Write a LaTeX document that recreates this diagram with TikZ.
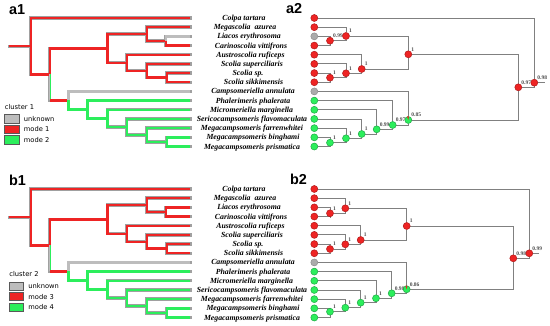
\documentclass[tikz,border=0pt]{standalone}
\usepackage{fontspec}
\setmainfont{Liberation Serif}
\setsansfont{DejaVu Sans}
\newfontfamily\panelfont{Liberation Sans}
\usepackage{xcolor}
\usetikzlibrary{positioning}
\pgfdeclarelayer{paper}
\pgfdeclarelayer{edges}
\pgfsetlayers{paper,edges,main}
\definecolor{modered}{HTML}{EE2424}
\definecolor{modegreen}{HTML}{2CEE5C}
\definecolor{unkgray}{HTML}{BDBDBD}
\definecolor{rimgray}{HTML}{A0A0A0}
\definecolor{linegray}{HTML}{808080}
\definecolor{darkred}{HTML}{B01818}
\definecolor{darkgreen}{HTML}{1FA845}
\definecolor{dotgrayfill}{HTML}{ABABAB}

\tikzset{
  br/.style={line width=2.4pt},
  brback/.style={line width=3.4pt, draw=rimgray, line cap=rect},
  stripe/.style={draw=modegreen, line width=0.9pt},
  taxon/.style={font=\fontsize{7.8}{8}\selectfont\bfseries\itshape, anchor=base, inner sep=0pt},
  panel/.style={font=\panelfont\fontsize{14.4}{15}\selectfont\bfseries, anchor=base west, inner sep=0pt},
  keybox/.style={draw=black!65, line width=0.8pt, minimum width=14.6pt, minimum height=8.4pt, inner sep=0pt},
  keytext/.style={font=\sffamily\fontsize{6.7}{7}\selectfont, anchor=west, inner sep=0pt},
  dot/.style={circle, inner sep=0pt, minimum size=7pt, line width=0.5pt},
  dotred/.style={dot, fill=modered, draw=darkred},
  dotgreen/.style={dot, fill=modegreen, draw=darkgreen},
  dotgray/.style={dot, fill=dotgrayfill, draw=black!45},
  val/.style={font=\fontsize{5.5}{6}\selectfont\bfseries, text=black!70, inner sep=0.3pt},
  conn/.style={draw=linegray, line width=0.9pt}
}

\newcommand{\branch}[2]{%
  \begin{pgfonlayer}{edges}\draw[brback] #2;\end{pgfonlayer}%
  \draw[br, draw=#1] #2;}

\begin{document}
\begin{tikzpicture}[x=1pt, y=-1pt]
\useasboundingbox (0,0) rectangle (550,326);
\begin{pgfonlayer}{paper}
  \fill[white] (0,0) rectangle (550,326);
\end{pgfonlayer}

% ancestral state trees (a1, b1)
\foreach \p/\dy/\lc/\cl/\ma/\mb/\kx/\ky in {a/0/unkgray/1/1/2/0/0, b/171/modered/2/3/4/4.5/-3.8}{
\begin{scope}[yshift=-\dy pt]
  \node[panel] (\p-one) at (9,15) {\p1};
  \foreach \cx/\name [count=\i from 0] in {244/Colpa tartara, 245/Megascolia\ \ azurea,
      249/Liacos erythrosoma, 251/Carinoscolia vittifrons, 250.5/Austroscolia ruficeps,
      252/Scolia superciliaris, 248/Scolia sp., 253.5/Scolia sikkimensis,
      253/Campsomeriella annulata, 253/Phalerimeris phalerata, 251.5/Micromeriella marginella,
      252/Sericocampsomeris flavomaculata, 252/Megacampsomeris farrenwhitei,
      253/Megacampsomeris binghami, 252/Megacampsomeris prismatica}{
    \coordinate (\p-tip\i) at (190,{18+9.18*\i});
    \node[taxon] (\p-l\i) at (\cx,{20.5+9.18*\i}) {\name};
  }
  \coordinate (\p-S) at (9.3,46.22);
  \coordinate (\p-A) at (30.7,46.22);
  \coordinate (\p-B) at (49.7,74.44);
  \coordinate (\p-Bd) at (49.7,100.48);
  \coordinate (\p-C) at (107.3,48.41);
  \coordinate (\p-C1) at (146.7,34.07);
  \coordinate (\p-C1a) at (165.7,40.95);
  \coordinate (\p-C2) at (126.7,62.76);
  \coordinate (\p-C2a) at (146.7,70.79);
  \coordinate (\p-C2b) at (166.7,77.67);
  \coordinate (\p-D) at (68.3,100.48);
  \coordinate (\p-E) at (87.3,109.51);
  \coordinate (\p-F) at (107.3,118.41);
  \coordinate (\p-G) at (126.7,127.01);
  \coordinate (\p-H) at (146.7,135.05);
  \coordinate (\p-I) at (166.7,141.93);
  % mode 1 / mode 3 branches
  \branch{modered}{(\p-S) -- (\p-A)}
  \branch{modered}{(\p-tip0) -| (\p-A) |- (\p-B)}
  \branch{modered}{(\p-C) -| (\p-B)}
  \branch{unkgray}{(\p-B) -- (\p-Bd)}
  \draw[stripe] ([xshift=0.8pt]\p-B) -- ([xshift=0.8pt]\p-Bd);
  \branch{modered}{(\p-Bd) -- (\p-D)}
  \branch{modered}{(\p-C1) -| (\p-C) |- (\p-C2)}
  \branch{modered}{(\p-tip1) -| (\p-C1) |- (\p-C1a)}
  \branch{\lc}{(\p-C1a) |- (\p-tip2)}
  \branch{modered}{(\p-C1a) |- (\p-tip3)}
  \branch{modered}{(\p-tip4) -| (\p-C2) |- (\p-C2a)}
  \branch{modered}{(\p-tip5) -| (\p-C2a) |- (\p-C2b)}
  \branch{modered}{(\p-tip6) -| (\p-C2b) |- (\p-tip7)}
  % unknown and mode 2 / mode 4 branches
  \branch{unkgray}{(\p-tip8) -| (\p-D)}
  \branch{modegreen}{(\p-D) |- (\p-E)}
  \branch{modegreen}{(\p-tip9) -| (\p-E) |- (\p-F)}
  \branch{modegreen}{(\p-tip10) -| (\p-F) |- (\p-G)}
  \branch{modegreen}{(\p-tip11) -| (\p-G) |- (\p-H)}
  \branch{modegreen}{(\p-tip12) -| (\p-H) |- (\p-I)}
  \branch{modegreen}{(\p-tip13) -| (\p-I) |- (\p-tip14)}
  % legend
  \node[keytext] (\p-cl) at ({4.7+\kx},{107.3+\ky}) {cluster \cl};
  \node[keybox, fill=unkgray] (\p-k0) at ({12+\kx},{119+\ky}) {};
  \node[keybox, fill=modered] (\p-k1) at ({12+\kx},{129.5+\ky}) {};
  \node[keybox, fill=modegreen] (\p-k2) at ({12+\kx},{140+\ky}) {};
  \node[keytext, right=4pt of \p-k0] (\p-u) {unknown};
  \node[keytext, right=4pt of \p-k1] (\p-ma) {mode \ma};
  \node[keytext, right=4pt of \p-k2] (\p-mb) {mode \mb};
\end{scope}}

% posterior trees (a2, b2)
\foreach \n/\x/\y/\v/\s in {n1/330/40.7/0.99/dotred, n2/346/36/1/dotred, n3/330/77.7/1/dotred,
    n4/346/73.3/1/dotred, n5/361.7/69/1/dotred, n6/408.3/54.3/1/dotred,
    m1/330/142.7/1/dotgreen, m2/346/138.3/1/dotgreen, m3/361.7/134/1/dotgreen,
    m4/376.7/129.3/0.99/dotgreen, m5/392.7/125/0.97/dotgreen, m6/408.3/120/0.85/dotgreen,
    n7/518.3/87.3/0.97/dotred, root/534.3/82.7/0.98/dotred}
  \node[\s, label={[val]north east:\v}] (a-\n) at (\x,\y) {};
\begin{scope}[yshift=-171pt]
\foreach \n/\x/\y/\v/\s in {n1/330/42.3/1/dotred, n2/345.3/37.3/1/dotred, n3/330/78/1/dotred,
    n4/345.3/73.3/1/dotred, n5/360.7/69/1/dotred, n6/406.7/55/1/dotred,
    m1/330/140.7/1/dotgreen, m2/345.3/136.7/1/dotgreen, m3/360.7/131.7/1/dotgreen,
    m4/376/127.3/1/dotgreen, m5/391.7/122.3/0.98/dotgreen, m6/406.7/118.3/0.86/dotgreen,
    n7/513.3/87.3/0.98/dotred, root/529.3/82.3/0.99/dotred}
  \node[\s, label={[val]north east:\v}] (b-\n) at (\x,\y) {};
\end{scope}

\foreach \p/\dy/\px/\sl/\tl in {
    a/0/286/10.7/{dotred,dotred,dotgray,dotred,dotred,dotred,dotred,dotred,dotgray,dotgreen,dotgreen,dotgreen,dotgreen,dotgreen,dotgreen},
    b/171/290/10/{dotred,dotred,dotred,dotred,dotred,dotred,dotred,dotred,dotgray,dotgreen,dotgreen,dotgreen,dotgreen,dotgreen,dotgreen}}{
\begin{scope}[yshift=-\dy pt]
  \node[panel] (\p-two) at (\px,14) {\p2};
  \foreach \s [count=\i from 0] in \tl
    \node[\s] (\p-leaf\i) at (314.3,{18+9.18*\i}) {};
  \begin{pgfonlayer}{edges}
  \foreach \c/\q in {leaf2/n1, leaf3/n1, leaf1/n2, n1/n2, leaf6/n3, leaf7/n3, leaf5/n4, n3/n4,
      leaf4/n5, n4/n5, n2/n6, n5/n6, leaf13/m1, leaf14/m1, leaf12/m2, m1/m2, leaf11/m3, m2/m3,
      leaf10/m4, m3/m4, leaf9/m5, m4/m5, leaf8/m6, m5/m6, n6/n7, m6/n7, leaf0/root, n7/root}
    \draw[conn] (\p-\q) |- (\p-\c);
  \coordinate (\p-stub) at ([xshift=\sl pt]\p-root.center);
  \draw[conn] (\p-root) -- (\p-stub);
  \end{pgfonlayer}
  \fill[modered] (\p-m6.center) -- (\p-m6.80) -- (\p-m6.95) -- (\p-m6.110) -- cycle;
\end{scope}}
\end{tikzpicture}
\end{document}
